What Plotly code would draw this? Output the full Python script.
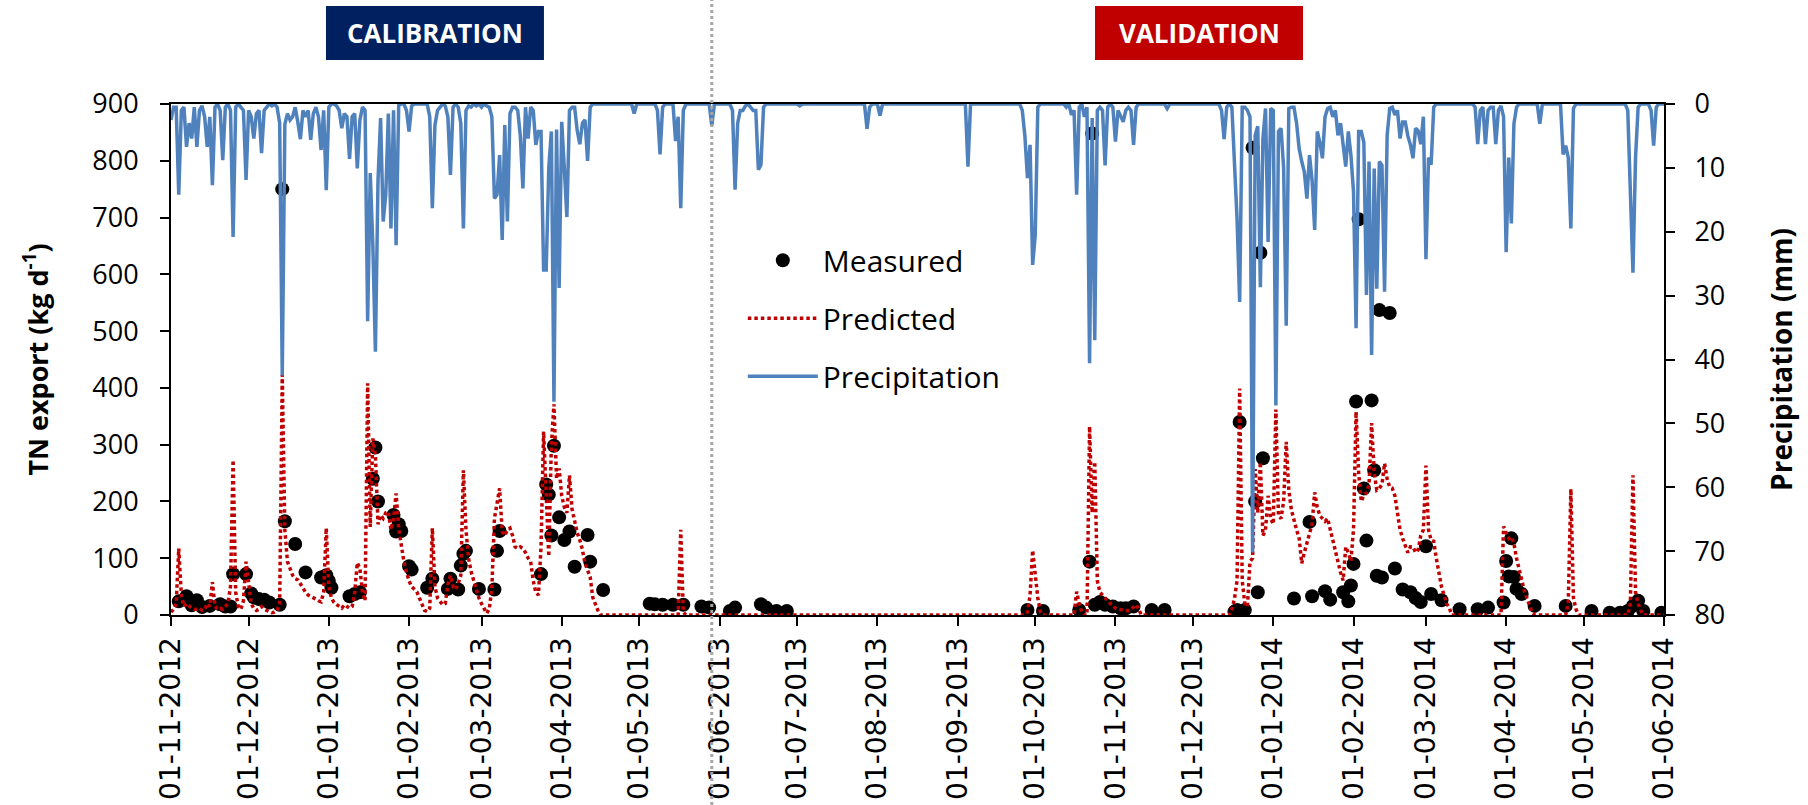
import pandas as pd
import plotly.graph_objects as go

# ---------------------------------------------------------------------------
# Daily precipitation (mm), stored as runs of consecutive days: (first day, values)
# Days not covered by a run had no rain (each run starts and ends at 0 mm).
# ---------------------------------------------------------------------------
rain_runs = [
    ("2012-11-01", [
        2.5, 0.5, 0.5, 14.2, 1.0, 0.5, 6.7, 3.0, 5.4, 0.5,
        6.7, 1.0, 0.3, 2.0, 6.7, 2.0, 12.7, 0.5, 0, 1.0,
        8.8, 0.5, 0, 1.0, 20.8, 0.5, 0, 0.5, 1.0, 11.9,
        1.0, 2.0, 5.4, 1.5, 1.0, 7.7, 1.0, 0.5, 0, 0.3,
        0, 0.5, 3.0, 42.5, 3.2, 1.5, 2.5, 2.0, 0.5, 2.8,
        5.5, 1.0, 2.0, 1.0, 5.6, 1.5, 0.5, 2.0, 7.2, 1.0,
        13.5, 0.5, 0, 0, 0.3, 1.0, 3.8, 1.5, 2.0, 8.6,
        2.0, 1.5, 10.1, 2.5, 0.5, 1.0, 34.0, 10.8, 22.0, 38.8,
        12.0, 2.2, 18.4, 14.2, 1.5, 19.5, 1.0, 22.1, 0.2, 0,
        0, 1.0, 4.3, 0.3, 0, 0, 0, 0, 0, 0,
        2.0, 16.3, 3.3, 1.0, 0.5, 0, 0.3, 2.0, 11.1, 0.5,
        0, 0.5, 3.0, 19.5, 1.0, 0.3, 0.5, 0, 0.3, 0,
        0.5, 0, 0.3, 0.5, 2.0, 14.8, 14.2, 8.0, 21.3, 3.3,
        18.4, 1.5, 0.5, 0.5, 1.0, 5.0, 13.2, 0.5, 5.4, 0.5,
        1.0, 6.4, 4.3, 4.3, 26.0, 26.0, 10.0, 4.3, 46.6, 4.0,
        28.8, 2.8, 10.0, 17.7, 1.0, 0.5, 0.5, 4.2, 6.3, 3.0,
        2.5, 8.9, 0.5, 0,
    ]),
    ("2013-04-28", [0, 1.5, 0]),
    ("2013-05-07", [0, 1.0, 7.9, 0.5, 0]),
    ("2013-05-14", [0, 5.8, 2.0, 16.3, 1.0, 0]),
    ("2013-05-28", [0, 3.4, 0]),
    ("2013-06-05", [0, 1.0, 13.4, 3.0, 1.0, 1.0, 0.3, 0, 0.5, 1.0, 1.0, 10.3, 9.5, 0.5, 0]),
    ("2013-07-01", [0, 0.3, 0]),
    ("2013-07-27", [0, 3.9, 0.5, 0]),
    ("2013-08-01", [0, 1.8, 0]),
    ("2013-09-04", [0, 9.8, 0]),
    ("2013-09-25", [0, 1.0, 5.0, 11.6, 6.4, 25.2, 20.5, 0.5, 0]),
    ("2013-10-12", [
        0, 0.5, 0, 1.7, 1.0, 14.2, 0.5, 0, 2.0, 0.5,
        40.6, 2.2, 37.0, 1.0, 0.5, 1.0, 9.6, 0.5, 0, 0.5,
        5.9, 1.0, 2.0, 2.8, 1.0, 0.5, 1.0, 6.4, 0.5, 0,
    ]),
    ("2013-11-20", [0, 0.7, 0]),
    ("2013-12-11", [
        0, 1.0, 5.5, 0.5, 0, 0.5, 8.0, 18.0, 31.0, 0.5,
        0.5, 1.0, 2.0, 70.2, 4.9, 3.5, 28.7, 5.4, 0.7, 21.6,
        0.7, 1.0, 47.2, 4.3, 3.8, 10.0, 34.7, 0.7, 0.5, 0.5,
        3.0, 7.0, 9.0, 10.6, 14.8, 8.0, 12.0, 19.7, 4.3, 6.0,
        8.5, 2.0, 0.7, 0.5, 2.0, 1.0, 4.9, 3.0, 6.4, 9.8,
        4.3, 8.0, 13.7, 35.1, 4.3, 4.3, 6.0, 29.9, 9.0, 39.3,
        10.1, 28.9, 9.0, 9.6, 29.4, 4.9, 0.7, 0.5, 1.7, 1.0,
        5.4, 2.8, 2.8, 5.0, 6.4, 8.5, 3.8, 4.2, 6.3, 2.0,
        24.3, 8.4, 9.5, 0.5, 0,
    ]),
    ("2014-03-19", [0, 0.5, 6.3, 1.0, 0.5, 6.3, 1.0, 0.5, 0.5, 6.3,
                    1.0, 0.3, 2.0, 23.2, 8.4, 18.7, 3.1, 0.5, 0]),
    ("2014-04-13", [0, 3.1, 0]),
    ("2014-04-22", [0, 7.9, 6.5, 8.4, 19.5, 0.7, 0]),
    ("2014-05-17", [0, 1.0, 13.7, 26.4, 8.4, 0.5, 0]),
    ("2014-05-26", [0, 1.0, 6.5, 0.5, 0, 0, 0]),
]

# ---------------------------------------------------------------------------
# Predicted daily TN export (kg/d), same run layout; zero between runs
# ---------------------------------------------------------------------------
predicted_runs = [
    ("2012-11-01", [
        5, 10, 20, 117, 35, 15, 20, 15, 12, 10,
        10, 12, 8, 10, 20, 15, 58, 15, 10, 12,
        10, 15, 20, 50, 273, 40, 15, 10, 25, 94,
        50, 20, 12, 8, 10, 15, 10, 8, 5, 4,
        5, 8, 20, 423, 150, 94, 82, 70, 64, 62,
        55, 47, 40, 35, 33, 30, 28, 25, 23, 40,
        153, 50, 30, 22, 18, 15, 12, 18, 15, 12,
        15, 40, 92, 82, 40, 25, 408, 155, 311, 282,
        160, 176, 170, 180, 182, 150, 170, 214, 153, 123,
        94, 76, 60, 50, 45, 41, 30, 18, 8, 6,
        12, 153, 50, 30, 23, 18, 20, 53, 70, 50,
        45, 55, 70, 255, 150, 100, 76, 60, 45, 30,
        20, 12, 3, 10, 47, 170, 200, 223, 147, 140,
        150, 153, 140, 120, 117, 120, 117, 110, 100, 94,
        60, 40, 35, 120, 323, 200, 103, 300, 371, 240,
        258, 210, 190, 180, 246, 186, 162, 145, 132, 115,
        91, 80, 67, 31, 19, 8, 0,
    ]),
    ("2013-05-16", [0, 150, 5, 0]),
    ("2013-09-27", [0, 5, 35, 114, 70, 30, 5, 0]),
    ("2013-10-16", [
        0, 41, 20, 5, 0, 0, 332, 180, 270, 60,
        40, 35, 29, 25, 20, 18, 12, 10, 9, 9,
        8, 8, 10, 14, 18, 10, 0,
    ]),
    ("2013-12-15", [
        0, 10, 29, 60, 399, 60, 20, 15, 94, 100,
        257, 180, 269, 140, 150, 210, 170, 160, 362, 175,
        170, 200, 305, 220, 185, 165, 150, 135, 91, 110,
        125, 140, 160, 216, 190, 175, 170, 165, 170, 150,
        135, 115, 95, 75, 61, 120, 110, 95, 150, 358,
        250, 200, 211, 215, 230, 338, 250, 220, 223, 230,
        267, 240, 225, 223, 210, 180, 150, 135, 120, 110,
        120, 120, 110, 115, 140, 150, 263, 150, 132, 130,
        100, 75, 50, 35, 20, 13, 0,
    ]),
    ("2014-03-30", [0, 156, 145, 135, 138, 126, 100, 79, 60, 43, 30, 19, 5, 0]),
    ("2014-04-24", [0, 20, 222, 30, 10, 0]),
    ("2014-05-18", [0, 20, 246, 40, 20, 8, 0]),
    ("2014-06-01", [0]),
]

# ---------------------------------------------------------------------------
# Measured TN export (kg/d)
# ---------------------------------------------------------------------------
measured_dates = [
    "2012-11-04", "2012-11-07", "2012-11-09", "2012-11-11", "2012-11-13", "2012-11-16",
    "2012-11-20", "2012-11-22", "2012-11-24", "2012-11-25", "2012-11-30", "2012-12-02",
    "2012-12-03", "2012-12-05", "2012-12-07", "2012-12-09", "2012-12-13", "2012-12-14",
    "2012-12-15", "2012-12-19", "2012-12-23", "2012-12-29", "2012-12-31", "2013-01-01",
    "2013-01-02", "2013-01-09", "2013-01-11", "2013-01-13", "2013-01-18", "2013-01-19",
    "2013-01-20", "2013-01-26", "2013-01-27", "2013-01-28", "2013-01-29", "2013-02-01",
    "2013-02-02", "2013-02-08", "2013-02-10", "2013-02-16", "2013-02-17", "2013-02-20",
    "2013-02-21", "2013-02-22", "2013-02-23", "2013-02-28", "2013-03-06", "2013-03-07",
    "2013-03-08", "2013-03-24", "2013-03-26", "2013-03-27", "2013-03-28", "2013-03-29",
    "2013-03-31", "2013-04-02", "2013-04-04", "2013-04-06", "2013-04-11", "2013-04-12",
    "2013-04-17", "2013-05-05", "2013-05-07", "2013-05-10", "2013-05-14", "2013-05-18",
    "2013-05-25", "2013-05-28", "2013-06-05", "2013-06-07", "2013-06-17", "2013-06-19",
    "2013-06-23", "2013-06-27",
    "2013-09-28", "2013-10-04", "2013-10-18", "2013-10-22", "2013-10-23", "2013-10-24",
    "2013-10-26", "2013-10-28", "2013-10-31", "2013-11-03", "2013-11-05", "2013-11-08",
    "2013-11-15", "2013-11-20", "2013-12-17", "2013-12-18", "2013-12-19", "2013-12-21",
    "2013-12-24", "2013-12-25", "2013-12-26", "2013-12-27", "2013-12-28", "2014-01-09",
    "2014-01-15", "2014-01-16", "2014-01-21", "2014-01-23", "2014-01-28", "2014-01-30",
    "2014-01-31", "2014-02-01", "2014-02-02", "2014-02-03", "2014-02-05", "2014-02-06",
    "2014-02-08", "2014-02-09", "2014-02-10", "2014-02-11", "2014-02-12", "2014-02-15",
    "2014-02-17", "2014-02-20", "2014-02-23", "2014-02-25", "2014-02-27", "2014-03-01",
    "2014-03-03", "2014-03-07", "2014-03-14", "2014-03-21", "2014-03-25", "2014-03-31",
    "2014-04-01", "2014-04-02", "2014-04-03", "2014-04-04", "2014-04-05", "2014-04-07",
    "2014-04-12", "2014-04-24", "2014-05-04", "2014-05-11", "2014-05-15", "2014-05-18",
    "2014-05-20", "2014-05-22", "2014-05-24", "2014-05-31",
]
measured_tn = [
    24, 33, 17, 26, 14, 16,
    19, 15, 15, 72, 72, 38,
    31, 28, 27, 22, 18, 750,
    165, 125, 75, 66, 70, 60,
    48, 33, 37, 40, 240, 295,
    200, 176, 147, 160, 148, 86,
    80, 48, 64, 46, 64, 45,
    87, 108, 113, 46, 45, 113,
    148, 72, 230, 212, 140, 298,
    172, 132, 147, 85, 141, 94,
    44, 20, 19, 18, 18, 18,
    15, 13, 7, 13, 19, 13,
    7, 7,
    9, 7, 9, 94, 848, 18,
    23, 18, 15, 12, 12, 15,
    9, 9, 6, 9, 340, 9,
    823, 200, 40, 638, 276, 29,
    164, 33, 42, 27, 40, 24,
    52, 90, 376, 697, 223, 131,
    378, 255, 69, 537, 66, 532,
    82, 45, 40, 30, 23, 121,
    37, 26, 10, 10, 13, 22,
    95, 68, 135, 67, 46, 37,
    16, 16, 7, 4, 4, 7,
    16, 25, 7, 4,
]

period_labels = ["CALIBRATION", "VALIDATION"]
period_colors = ["#002060", "#C00000"]
split_date = "2013-05-29"

x_start, x_end = "2012-11-01", "2014-06-01"
tn_ticks = list(range(0, 901, 100))
rain_ticks = list(range(0, 81, 10))


def expand(runs):
    dates, values = [], []
    for start, vals in runs:
        dates.extend(pd.date_range(start, periods=len(vals), freq="D"))
        values.extend(vals)
    return dates, values


rain_dates, rain_mm = expand(rain_runs)
pred_dates, pred_tn = expand(predicted_runs)

FONT = "Open Sans"

fig = go.Figure()

fig.add_trace(go.Scatter(
    x=pd.to_datetime(measured_dates), y=measured_tn, name="Measured",
    mode="markers", legendgroup="m",
    marker=dict(color="black", size=14, line=dict(width=0)),
))
fig.add_trace(go.Scatter(
    x=pred_dates, y=pred_tn, name="Predicted", mode="lines", legendgroup="p",
    line=dict(color="#C00000", width=3.5, dash="3.5px,3px"),
))
fig.add_trace(go.Scatter(
    x=rain_dates, y=rain_mm, name="Precipitation", mode="lines", legendgroup="r",
    yaxis="y2", line=dict(color="#4F81BD", width=3.5),
))

axis_common = dict(
    showgrid=False, zeroline=False, showline=True, linecolor="black", linewidth=2,
    ticks="outside", tickcolor="black", ticklen=9, tickwidth=2,
)

fig.update_layout(
    width=1808, height=805,
    margin=dict(l=171, r=144, t=104, b=190, autoexpand=False),
    paper_bgcolor="white", plot_bgcolor="white",
    font=dict(family=FONT, color="black"),
    xaxis=dict(
        **axis_common, mirror=True,
        range=[x_start, x_end], type="date",
        tick0=x_start, dtick="M1", tickformat="%d-%m-%Y", tickangle=-90,
        tickfont=dict(family="DejaVu Sans", size=28),
    ),
    yaxis=dict(
        **axis_common, range=[0, 900], tickvals=tn_ticks,
        tickfont=dict(size=27), ticklabelstandoff=16,
        title=dict(text="<b>TN export (kg d<sup>-1</sup>)</b>", font=dict(size=27), standoff=36),
    ),
    yaxis2=dict(
        **axis_common, overlaying="y", side="right", range=[80, 0], tickvals=rain_ticks,
        tickfont=dict(size=27), ticklabelstandoff=14,
        title=dict(text="<b>Precipitation (mm)</b>", font=dict(size=28), standoff=48),
    ),
    legend=dict(
        x=0.383, y=0.745, xanchor="left", yanchor="top",
        font=dict(size=30), itemwidth=70, tracegroupgap=16,
        bgcolor="rgba(0,0,0,0)", traceorder="grouped",
    ),
    showlegend=True,
)

# Calibration / validation split
fig.add_shape(
    type="line", xref="x", yref="paper", x0=split_date, x1=split_date,
    y0=-0.372, y1=1.2035, line=dict(color="#A6A6A6", width=3, dash="3px,3px"),
)

# Period header boxes
box_x = [(0.1038, 0.2498), (0.6189, 0.7582)]
for label, color, (bx0, bx1) in zip(period_labels, period_colors, box_x):
    fig.add_shape(
        type="rect", xref="paper", yref="paper", x0=bx0, x1=bx1, y0=1.0861, y1=1.1918,
        fillcolor=color, line=dict(width=0), layer="above",
    )
    fig.add_annotation(
        xref="paper", yref="paper", x=(bx0 + bx1) / 2, y=(1.0861 + 1.1918) / 2,
        text=f"<b>{label}</b>", showarrow=False,
        font=dict(size=26, color="white", family=FONT),
        xanchor="center", yanchor="middle",
    )

fig.write_html("out.html")
